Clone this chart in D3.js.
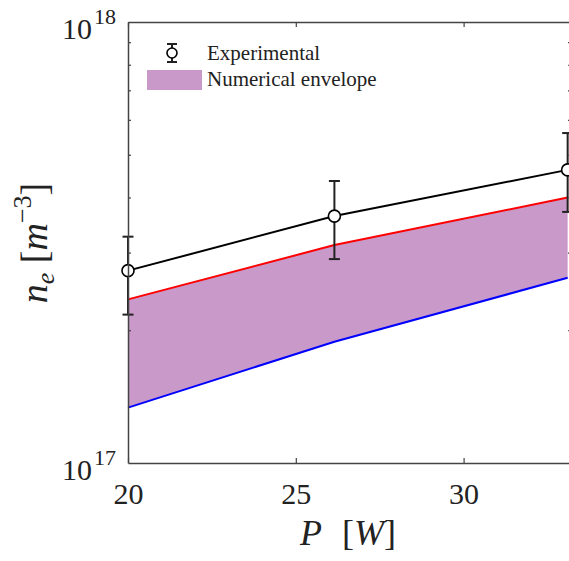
<!DOCTYPE html>
<html>
<head>
<meta charset="utf-8">
<script src="https://cdn.jsdelivr.net/npm/d3@7"></script>
<style>
  body { margin: 0; background: #fff; }
  svg, svg text { font-family: "Liberation Serif", Tinos, "Times New Roman", Times, serif; }
</style>
</head>
<body>
<div class="chart"></div>
<script>
// data
var power = [20, 26.15, 33.1];
var nExp = [2.73e17, 3.63e17, 4.62e17];
var nExpHigh = [3.26e17, 4.36e17, 5.6e17];
var nExpLow = [2.17e17, 2.9e17, 3.71e17];
var nUpper = [2.35e17, 3.12e17, 4.0e17];
var nLower = [1.335e17, 1.884e17, 2.63e17];
var xTicks = [20, 25, 30];
var yMajor = [1e17, 1e18];
var yMinor = [2e17, 3e17, 4e17, 5e17, 6e17, 7e17, 8e17, 9e17];

// set the dimensions and margins of the graph
var margin = {top: 22, right: 0, bottom: 98, left: 128},
    width = 443,
    height = 441;

var x = d3.scaleLinear().domain([20, 33.2]).range([0, width]);
var y = d3.scaleLog().domain([1e17, 1e18]).range([height, 0]);

var svg = d3.select(".chart").append("svg")
    .attr("width", 569)
    .attr("height", 561);

var chart = svg.append("g")
    .attr("transform", "translate(" + margin.left + "," + margin.top + ")");

var rows = power.map(function(p, i) {
  return {p: p, n: nExp[i], hi: nExpHigh[i], lo: nExpLow[i], up: nUpper[i], low: nLower[i]};
});

// envelope
var envelope = d3.area()
    .x(function(d) { return x(d.p); })
    .y0(function(d) { return y(d.low); })
    .y1(function(d) { return y(d.up); });

chart.append("path")
    .datum(rows)
    .attr("d", envelope)
    .style("fill", "#c999c9");

chart.append("path")
    .datum(rows)
    .attr("d", d3.line().x(function(d) { return x(d.p); }).y(function(d) { return y(d.up); }))
    .style("fill", "none").style("stroke", "#ff0000").style("stroke-width", 2);

chart.append("path")
    .datum(rows)
    .attr("d", d3.line().x(function(d) { return x(d.p); }).y(function(d) { return y(d.low); }))
    .style("fill", "none").style("stroke", "#0000ff").style("stroke-width", 2);

// experimental line
chart.append("path")
    .datum(rows)
    .attr("d", d3.line().x(function(d) { return x(d.p); }).y(function(d) { return y(d.n); }))
    .style("fill", "none").style("stroke", "#000").style("stroke-width", 2);

// error bars
var bars = chart.selectAll(".err").data(rows).enter().append("g").attr("class", "err")
    .style("stroke", "#222").style("stroke-width", 2);
bars.append("line")
    .attr("x1", function(d) { return x(d.p); }).attr("x2", function(d) { return x(d.p); })
    .attr("y1", function(d) { return y(d.hi); }).attr("y2", function(d) { return y(d.lo); });
bars.append("line")
    .attr("x1", function(d) { return x(d.p) - 5.5; }).attr("x2", function(d) { return x(d.p) + 5.5; })
    .attr("y1", function(d) { return y(d.hi); }).attr("y2", function(d) { return y(d.hi); });
bars.append("line")
    .attr("x1", function(d) { return x(d.p) - 5.5; }).attr("x2", function(d) { return x(d.p) + 5.5; })
    .attr("y1", function(d) { return y(d.lo); }).attr("y2", function(d) { return y(d.lo); });

chart.selectAll(".pt").data(rows).enter().append("circle")
    .attr("cx", function(d) { return x(d.p); })
    .attr("cy", function(d) { return y(d.n); })
    .attr("r", 6)
    .style("fill", "#fff").style("stroke", "#000").style("stroke-width", 1.6);

// axes
function styleAxis(g) {
  g.attr("font-family", null);
  g.select(".domain").style("stroke", "#444").style("stroke-width", 1.5);
  g.selectAll(".tick line").style("stroke", "#444").style("stroke-width", 1.2);
}

var xAxis = chart.append("g")
    .attr("transform", "translate(0," + height + ")")
    .call(d3.axisBottom(x).tickValues(xTicks).tickSize(-5).tickSizeOuter(0));
styleAxis(xAxis);
xAxis.selectAll("text")
    .attr("dy", null).attr("y", 41)
    .style("font-size", "30px").style("fill", "#222");

chart.append("g")
    .call(d3.axisTop(x).tickValues(xTicks).tickSize(-5).tickSizeOuter(0).tickFormat(""))
    .call(styleAxis);

chart.append("g")
    .call(d3.axisLeft(y).tickValues(yMinor).tickSize(-3).tickSizeOuter(0).tickFormat(""))
    .call(styleAxis);

chart.append("g")
    .attr("transform", "translate(" + width + ",0)")
    .call(d3.axisRight(y).tickValues(yMinor).tickSize(-3).tickSizeOuter(0).tickFormat(""))
    .call(styleAxis);

// y tick labels 10^17, 10^18
var yLab = chart.selectAll(".ylab").data(yMajor).enter().append("text")
    .attr("x", -12)
    .attr("y", function(d) { return y(d) + 17; })
    .attr("text-anchor", "end")
    .style("font-size", "30px").style("fill", "#222");
yLab.append("tspan").text("10");
yLab.append("tspan")
    .attr("dx", 2)
    .attr("dy", -15)
    .style("font-size", "22px")
    .text(function(d) { return Math.round(Math.log10(d)); });

// axis titles
var xt = svg.append("text")
    .attr("x", 300).attr("y", 545)
    .style("font-size", "36px").style("fill", "#222");
xt.append("tspan").style("font-style", "italic").text("P");
xt.append("tspan").attr("x", 342).text("[");
xt.append("tspan").style("font-style", "italic").text("W");
xt.append("tspan").text("]");

var yt = svg.append("text")
    .attr("transform", "translate(47,243) rotate(-90)")
    .attr("text-anchor", "middle")
    .style("font-size", "38px").style("fill", "#222");
yt.append("tspan").style("font-style", "italic").text("n");
yt.append("tspan").style("font-style", "italic").style("font-size", "26px").attr("dy", 7).text("e");
yt.append("tspan").attr("dy", -7).text(" [");
yt.append("tspan").style("font-style", "italic").text("m");
yt.append("tspan").style("font-size", "26px").attr("dy", -16).text("\u22123");
yt.append("tspan").attr("dy", 16).text("]");

// legend
var legend = svg.append("g");
legend.append("line").attr("x1", 172).attr("x2", 172).attr("y1", 44).attr("y2", 62)
    .style("stroke", "#222").style("stroke-width", 2);
legend.append("line").attr("x1", 167).attr("x2", 177).attr("y1", 44).attr("y2", 44)
    .style("stroke", "#222").style("stroke-width", 2);
legend.append("line").attr("x1", 167).attr("x2", 177).attr("y1", 62).attr("y2", 62)
    .style("stroke", "#222").style("stroke-width", 2);
legend.append("circle").attr("cx", 172).attr("cy", 53).attr("r", 5)
    .style("fill", "#fff").style("stroke", "#000").style("stroke-width", 1.6);
legend.append("text").attr("x", 207).attr("y", 60)
    .style("font-size", "21px").style("fill", "#222").text("Experimental");
legend.append("rect").attr("x", 147).attr("y", 70).attr("width", 55).attr("height", 20)
    .style("fill", "#c999c9");
legend.append("text").attr("x", 207).attr("y", 86)
    .style("font-size", "21px").style("fill", "#222").text("Numerical envelope");
</script>
</body>
</html>
